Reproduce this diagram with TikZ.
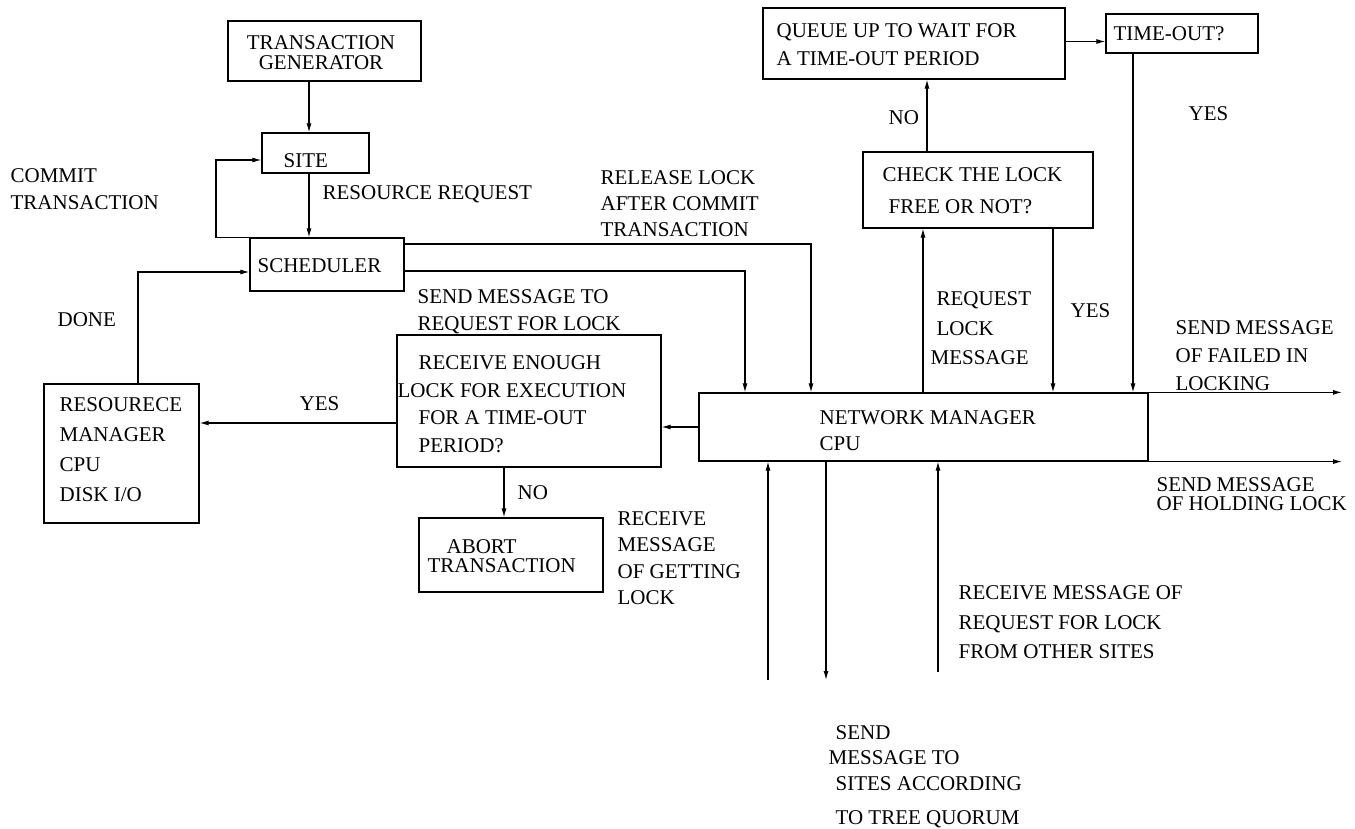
\documentclass[tikz,border=0pt]{standalone}
\usepackage{fontspec}
\setmainfont{Liberation Serif}
\usetikzlibrary{arrows.meta,fit,calc}
\begin{document}
\begin{tikzpicture}[x=1pt,y=-1pt,
  line width=1.2pt,
  box/.style={draw, line width=1.2pt, inner sep=0pt},
  txt/.style={anchor=north west, inner sep=0pt, align=left, font=\fontsize{21}{27}\selectfont},
  arr/.style={-{Latex[length=9pt,width=5pt]}, line width=1.1pt},
  ln/.style={line width=1.1pt}]
\fill[white] (0,0) rectangle (1355,829);
\useasboundingbox (0,0) rectangle (1355,829);

% helper x positions
\coordinate (xa) at (309,0);
\coordinate (xloop) at (216,0);
\coordinate (xdone) at (138,0);
\coordinate (xs1) at (745,0);
\coordinate (xs2) at (811,0);
\coordinate (xno) at (504,0);
\coordinate (xreq) at (923,0);
\coordinate (xnou) at (927,0);
\coordinate (xyes) at (1053,0);
\coordinate (xto) at (1133,0);
\coordinate (xend) at (1342,0);
\coordinate (b1) at (768,680);
\coordinate (b2) at (826,680);
\coordinate (b3) at (938,672);

% boxes
\node[box, fit={(228,21) (421,81)}] (tg) {};
\node[box, fit={(262,133) (369,173)}] (site) {};
\node[box, fit={(250,238) (404,291)}] (sched) {};
\node[box, fit={(397,335) (661,467)}] (re) {};
\node[box, fit={(44,384) (199,523)}] (rm) {};
\node[box, fit={(419,518) (603,592)}] (abort) {};
\node[box, fit={(699,393) (1148,461)}] (nm) {};
\node[box, fit={(763,8) (1065,79)}] (queue) {};
\node[box, fit={(1106,14) (1258,53)}] (timeout) {};
\node[box, fit={(863,152) (1093,228)}] (check) {};

% texts
\node[txt, anchor=north, align=center, font=\fontsize{21}{20}\selectfont] (tgt) at (321,35) {TRANSACTION\\GENERATOR};
\node[txt] (sitet) at (283,153) {SITE};
\node[txt] (schedt) at (257,258) {SCHEDULER};
\node[txt] (commit) at (10,168) {COMMIT\\TRANSACTION};
\node[txt] (resreq) at (322,185) {RESOURCE REQUEST};
\node[txt, font=\fontsize{21}{26}\selectfont] (release) at (600,170) {RELEASE LOCK\\AFTER COMMIT\\TRANSACTION};
\node[txt] (sendreq) at (417,289) {SEND MESSAGE TO\\REQUEST FOR LOCK};
\node[txt] (done) at (57,312) {DONE};
\node[txt, font=\fontsize{21}{27.7}\selectfont] (ret) at (397,355) {\hspace*{21pt}RECEIVE ENOUGH\\LOCK FOR EXECUTION\\\hspace*{21pt}FOR A TIME-OUT\\\hspace*{21pt}PERIOD?};
\node[txt] (yesl) at (299,396) {YES};
\node[txt, font=\fontsize{21}{30}\selectfont] (rmt) at (59,397) {RESOURECE\\MANAGER\\CPU\\DISK I/O};
\node[txt] (nol) at (517,485) {NO};
\node[txt, font=\fontsize{21}{19}\selectfont] (abortt) at (427,539) {\hspace*{19pt}ABORT\\TRANSACTION};
\node[txt, font=\fontsize{21}{26.3}\selectfont] (recget) at (617,511) {RECEIVE\\MESSAGE\\OF GETTING\\LOCK};
\node[txt, font=\fontsize{21}{26}\selectfont] (nmt) at (819,410) {NETWORK MANAGER\\CPU};
\node[txt, font=\fontsize{21}{29.5}\selectfont] (reqlock) at (930,291) {\hspace*{6pt}REQUEST\\\hspace*{6pt}LOCK\\MESSAGE};
\node[txt] (yesm) at (1070,303) {YES};
\node[txt, font=\fontsize{21}{28}\selectfont] (failed) at (1175,320) {SEND MESSAGE\\OF FAILED IN\\LOCKING};
\node[txt, font=\fontsize{21}{19}\selectfont] (holding) at (1156,477) {SEND MESSAGE\\OF HOLDING LOCK};
\node[txt, font=\fontsize{21}{29.5}\selectfont] (recother) at (958,585) {RECEIVE MESSAGE OF\\REQUEST FOR LOCK\\FROM OTHER SITES};
\node[txt, font=\fontsize{21}{25}\selectfont] (tree) at (828,725) {\hspace*{7pt}SEND\\MESSAGE TO\\[1pt]\hspace*{7pt}SITES ACCORDING\\[9pt]\hspace*{7pt}TO TREE QUORUM};
\node[txt, font=\fontsize{21}{28}\selectfont] (queuet) at (776,23) {QUEUE UP TO WAIT FOR\\A TIME-OUT PERIOD};
\node[txt] (timeoutt) at (1113,26) {TIME-OUT?};
\node[txt] (nou) at (888,110) {NO};
\node[txt] (yesu) at (1188,106) {YES};
\node[txt, font=\fontsize{21}{32}\selectfont] (checkt) at (882,167) {CHECK THE LOCK\\\hspace*{6pt}FREE OR NOT?};

% connectors
\draw[arr] (tg.south -| xa) -- (site.north -| xa);
\draw[arr] (site.south -| xa) -- (sched.north -| xa);
\draw[arr] (sched.north west) -| ([yshift=-7pt]site.west -| xloop) -- ([yshift=-7pt]site.west);
\draw[arr] (rm.north -| xdone) |- ([yshift=-7.5pt]sched.west);
\draw[arr] ([yshift=-6.5pt]sched.east) -| (nm.north -| xs1);
\draw[arr] ([yshift=20.5pt]sched.east) -| (nm.north -| xs2);
\draw[arr] (nm.west) -- (nm.west -| re.east);
\draw[arr] ([yshift=-22pt]re.west) -- ([yshift=-22pt]re.west -| rm.east);
\draw[arr] (re.south -| xno) -- (abort.north -| xno);
\draw[arr] (nm.north -| xreq) -- (check.south -| xreq);
\draw[arr] (check.north -| xnou) -- (queue.south -| xnou);
\draw[arr] ([yshift=2pt]queue.east) -- ([yshift=2pt]queue.east -| timeout.west);
\draw[arr] (timeout.south -| xto) -- (nm.north -| xto);
\draw[arr] (check.south -| xyes) -- (nm.north -| xyes);
\draw[arr] (nm.north east) -- (nm.north east -| xend);
\draw[arr] (nm.south east) -- (nm.south east -| xend);
\draw[arr] (b1) -- (nm.south -| b1);
\draw[arr] (nm.south -| b2) -- (b2);
\draw[arr] (b3) -- (nm.south -| b3);
\end{tikzpicture}
\end{document}
